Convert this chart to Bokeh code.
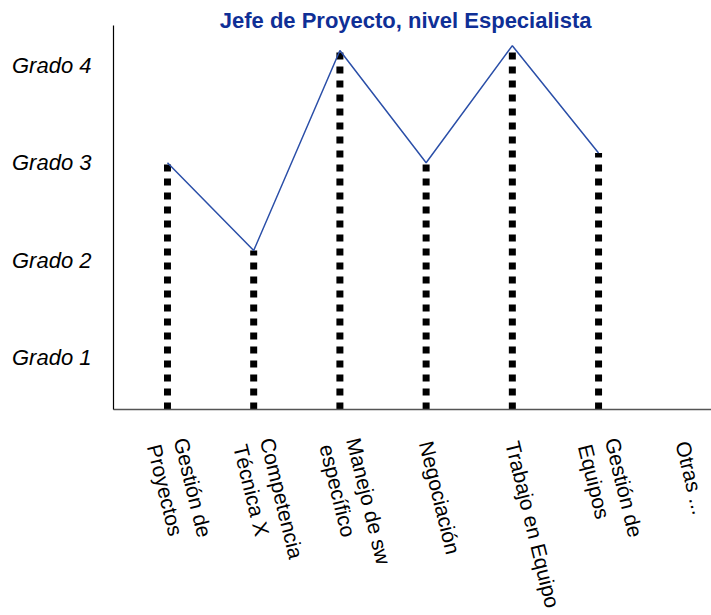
from bokeh.plotting import figure
from bokeh.models import FixedTicker, Range1d, Label
from bokeh.embed import file_html
from bokeh.resources import INLINE

# ---- data ----
categories = ["Gestión de\nProyectos", "Competencia\nTécnica X", "Manejo de sw\nespecífico",
              "Negociación", "Trabajo en Equipo", "Gestión de\nEquipos", "Otras ..."]
values = [3.0, 2.1, 4.15, 3.0, 4.2, 3.1]          # rated competencies (Otras has no value)
grado_ticks = [1, 2, 3, 4]
grado_labels = ["Grado 1", "Grado 2", "Grado 3", "Grado 4"]
title_text = "Jefe de Proyecto, nivel Especialista"

xs = list(range(len(categories)))
xv = xs[:len(values)]

x_start, x_end = -0.626, 6.31
y_start, y_end = 0.47, 4.663
y_axis_top = 4.407          # visible extent of the vertical axis line
title_y = 4.458             # title sits just above the axis top

p = figure(width=711, height=615, output_backend="svg", toolbar_location=None,
           x_range=Range1d(x_start, x_end), y_range=Range1d(y_start, y_end),
           min_border_left=113, min_border_right=0, min_border_top=0, min_border_bottom=10)

p.background_fill_color = "white"
p.border_fill_color = "white"
p.outline_line_color = None
p.xgrid.grid_line_color = None
p.ygrid.grid_line_color = None

# title
title = Label(x=(x_start + x_end) / 2 - 0.08, y=title_y, text=title_text,
              text_font="Liberation Sans", text_font_size="22px", text_font_style="bold",
              text_color="#0f2f96", text_align="center", text_baseline="middle")
p.add_layout(title)

# dotted stems
p.segment(x0=xv, y0=[y_start] * len(xv), x1=xv, y1=values,
          line_color="black", line_width=7, line_dash="7 7", line_cap="butt")
# profile line
p.line(xv, values, line_color="#2b4fa8", line_width=1.5)

# y axis
p.yaxis.ticker = FixedTicker(ticks=grado_ticks)
p.yaxis.bounds = (y_start, y_axis_top)
p.yaxis.major_label_overrides = {t: l for t, l in zip(grado_ticks, grado_labels)}
p.yaxis.major_label_text_font = "Liberation Sans"
p.yaxis.major_label_text_font_style = "italic"
p.yaxis.major_label_text_font_size = "22px"
p.yaxis.major_label_text_color = "black"
p.yaxis.major_label_standoff = 16
p.yaxis.major_tick_line_color = None
p.yaxis.minor_tick_line_color = None
p.yaxis.axis_line_color = "black"
p.yaxis.axis_line_width = 1.2

# x axis
p.xaxis.ticker = FixedTicker(ticks=xs)
p.xaxis.major_label_overrides = {i: c for i, c in zip(xs, categories)}
p.xaxis.major_label_orientation = -1.33
p.xaxis.major_label_text_font = "Liberation Sans"
p.xaxis.major_label_text_font_size = "21px"
p.xaxis.major_label_text_color = "black"
p.xaxis.major_label_standoff = 26
p.xaxis.major_tick_line_color = None
p.xaxis.minor_tick_line_color = None
p.xaxis.axis_line_color = "#555555"
p.xaxis.axis_line_width = 1.5

open("out.html", "w").write(file_html(p, INLINE))
